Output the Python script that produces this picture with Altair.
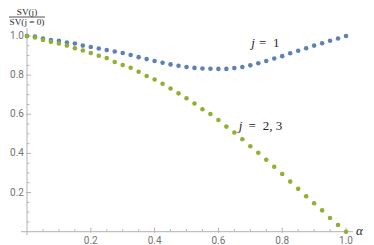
import altair as alt
import pandas as pd

# ---- data ----
alpha = [0.000, 0.025, 0.050, 0.075, 0.100, 0.125, 0.150, 0.175, 0.200, 0.225,
         0.250, 0.275, 0.300, 0.325, 0.350, 0.375, 0.400, 0.425, 0.450, 0.475,
         0.500, 0.525, 0.550, 0.575, 0.600, 0.625, 0.650, 0.675, 0.700, 0.725,
         0.750, 0.775, 0.800, 0.825, 0.850, 0.875, 0.900, 0.925, 0.950, 0.975,
         1.000]
sv_j1 = [1.000, 0.997, 0.987, 0.980, 0.975, 0.967, 0.962, 0.951, 0.944, 0.936,
         0.928, 0.921, 0.913, 0.903, 0.892, 0.882, 0.872, 0.863, 0.855, 0.848,
         0.842, 0.837, 0.834, 0.833, 0.832, 0.832, 0.836, 0.842, 0.850, 0.861,
         0.872, 0.885, 0.897, 0.912, 0.925, 0.937, 0.951, 0.963, 0.976, 0.987,
         1.000]
sv_j23 = [1.000, 0.992, 0.980, 0.970, 0.962, 0.951, 0.937, 0.926, 0.913, 0.899,
          0.887, 0.867, 0.852, 0.838, 0.817, 0.796, 0.778, 0.756, 0.732, 0.707,
          0.682, 0.655, 0.626, 0.601, 0.571, 0.537, 0.507, 0.472, 0.437, 0.403,
          0.368, 0.332, 0.295, 0.256, 0.219, 0.181, 0.145, 0.109, 0.070, 0.034,
          0.000]

x_major = [0.2, 0.4, 0.6, 0.8, 1.0]
x_minor = [0.05, 0.1, 0.15, 0.25, 0.3, 0.35, 0.45, 0.5, 0.55, 0.65, 0.7, 0.75,
           0.85, 0.9, 0.95]
y_major = [0.2, 0.4, 0.6, 0.8, 1.0]
y_minor = [0.05, 0.1, 0.15, 0.25, 0.3, 0.35, 0.45, 0.5, 0.55, 0.65, 0.7, 0.75,
           0.85, 0.9, 0.95]
x_labels = ["0.2", "0.4", "0.6", "0.8", "1.0"]
y_labels = ["0.2", "0.4", "0.6", "0.8", "1.0"]

# ---- layout ----
XMIN, XMAX = -0.0188, 1.0219
YMIN, YMAX = -0.0169, 1.0409
W, H = 332, 207
BLUE = "#5E81B5"
GREEN = "#8FB032"
AXIS = "#b3b3b3"
LABEL = "#737373"
TEXT = "#262626"

xs = alt.Scale(domain=[XMIN, XMAX], nice=False, zero=False)
ys = alt.Scale(domain=[YMIN, YMAX], nice=False, zero=False)


def XF(f):
    return alt.X(f, type="quantitative", scale=xs, axis=None)


def YF(f):
    return alt.Y(f, type="quantitative", scale=ys, axis=None)


def XD(v):
    return alt.XDatum(v, type="quantitative", scale=xs, axis=None)


def YD(v):
    return alt.YDatum(v, type="quantitative", scale=ys, axis=None)


pts = pd.DataFrame({
    "alpha": alpha * 2,
    "val": sv_j1 + sv_j23,
    "series": ["j=1"] * len(alpha) + ["j=2,3"] * len(alpha),
})

one = alt.Data(values=[{"a": 0}])

# axis lines
x_line = alt.Chart(one).mark_rule(color=AXIS, strokeWidth=1).encode(
    x=XD(XMIN), x2=alt.X2Datum(XMAX), y=YD(0))
y_line = alt.Chart(one).mark_rule(color=AXIS, strokeWidth=1).encode(
    y=YD(YMIN), y2=alt.Y2Datum(YMAX), x=XD(0))

# ticks (inward)
xt_major = alt.Chart(pd.DataFrame({"v": x_major})).mark_rule(
    color=AXIS, y2Offset=-4, yOffset=1).encode(x=XF("v"), y=YD(0), y2=alt.Y2Datum(0))
xt_minor = alt.Chart(pd.DataFrame({"v": x_minor})).mark_rule(
    color=AXIS, y2Offset=-2.5).encode(x=XF("v"), y=YD(0), y2=alt.Y2Datum(0))
yt_major = alt.Chart(pd.DataFrame({"v": y_major})).mark_rule(
    color=AXIS, x2Offset=4, xOffset=-1).encode(y=YF("v"), x=XD(0), x2=alt.X2Datum(0))
yt_minor = alt.Chart(pd.DataFrame({"v": y_minor})).mark_rule(
    color=AXIS, x2Offset=2.5).encode(y=YF("v"), x=XD(0), x2=alt.X2Datum(0))

# tick labels
xl = alt.Chart(pd.DataFrame({"v": x_major, "t": x_labels})).mark_text(
    font="Roboto", fontSize=10, color=LABEL, baseline="middle", align="center",
    dy=9).encode(x=XF("v"), y=YD(0), text="t:N")
yl = alt.Chart(pd.DataFrame({"v": y_major, "t": y_labels})).mark_text(
    font="Roboto", fontSize=10, color=LABEL, baseline="middle", align="right",
    dx=-3).encode(x=XD(0), y=YF("v"), text="t:N")

# points
points = alt.Chart(pts).mark_circle(size=21, opacity=1).encode(
    x=XF("alpha"), y=YF("val"),
    color=alt.Color("series:N",
                    scale=alt.Scale(domain=["j=1", "j=2,3"], range=[BLUE, GREEN]),
                    legend=None))

# axis label alpha
alpha_lbl = alt.Chart(one).mark_text(
    text="α", font="Liberation Serif", fontStyle="italic", fontSize=13,
    color=TEXT, align="left", baseline="middle", dx=3, dy=-1).encode(
    x=XD(XMAX), y=YD(0))


def dtxt(s, a, v, italic=False, size=13):
    kw = dict(text=s, font="Liberation Serif", fontSize=size, color=TEXT,
              align="left", baseline="alphabetic")
    if italic:
        kw["fontStyle"] = "italic"
    return alt.Chart(one).mark_text(**kw).encode(x=XD(a), y=YD(v))


def ptxt(s, x, y, size=9.2):
    return alt.Chart(one).mark_text(
        text=s, font="Liberation Serif", fontSize=size, color=TEXT,
        align="center", baseline="alphabetic").encode(x=alt.value(x), y=alt.value(y))


ann = [
    dtxt("j", 0.703, 0.943, italic=True), dtxt("=", 0.727, 0.943), dtxt("1", 0.771, 0.943),
    dtxt("j", 0.664, 0.522, italic=True), dtxt("=", 0.694, 0.522), dtxt("2, 3", 0.739, 0.522),
    ptxt("SV(j)", 6, -13.2),
    ptxt("SV(j = 0)", 6, -3.2),
]
frac = alt.Chart(one).mark_rule(color=TEXT, strokeWidth=0.8).encode(
    x=alt.value(-12), x2=alt.value(24), y=alt.value(-11))

chart = alt.layer(
    x_line, y_line, xt_major, xt_minor, yt_major, yt_minor, xl, yl,
    points, alpha_lbl, frac, *ann
).properties(
    width=W, height=H,
    autosize=alt.AutoSizeParams(type="none"),
    padding={"left": 13, "top": 20, "right": 13, "bottom": 10},
).configure_view(stroke=None)

chart.save("out.html", embed_options={"renderer": "svg", "actions": False})
